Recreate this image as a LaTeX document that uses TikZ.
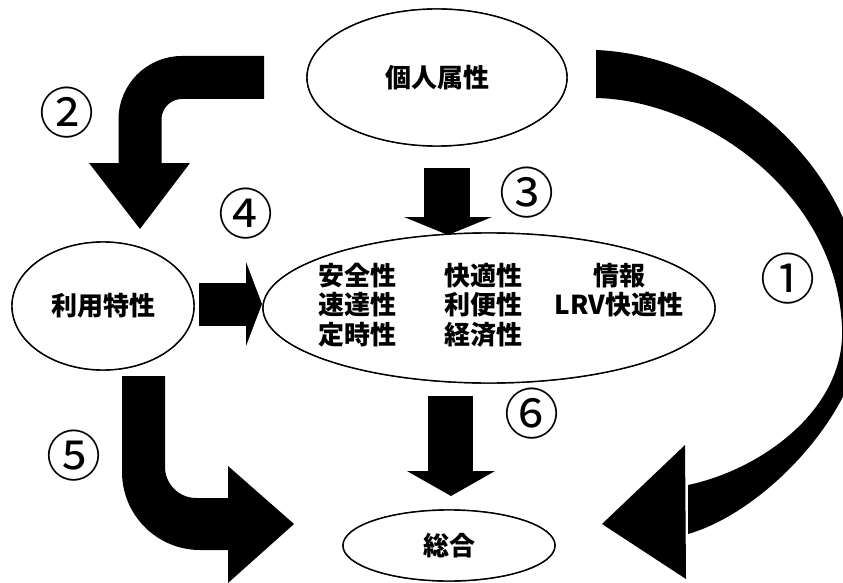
\documentclass[tikz,border=0pt]{standalone}
\usepackage{fontspec}
\setmainfont{Noto Sans CJK JP}
\newfontfamily\jp{Noto Sans CJK JP}
\usetikzlibrary{shapes.geometric}
\tikzset{
  blk/.style={fill=black, draw=none},
  bandline/.style={draw=black, line width=#1, line cap=butt},
  oval/.style={ellipse, draw=black, line width=1.4pt, fill=white, inner sep=0pt},
  lbl/.style={font=\jp\bfseries\fontsize{26}{26}\selectfont, inner sep=0pt},
  num/.style={font=\jp\fontsize{55}{55}\selectfont, inner sep=0pt},
}
\begin{document}
\begin{tikzpicture}[x=1pt,y=-1pt]
\useasboundingbox (0,0) rectangle (843,583);
\fill[white] (0,0) rectangle (843,583);
\clip (0,0) rectangle (843,583);

% nodes
\node[oval, minimum width=260pt, minimum height=137pt] (ko) at (437,77.5) {};
\node[oval, minimum width=182pt, minimum height=128pt] (riyo) at (103,306) {};
\node[oval, minimum width=452pt, minimum height=150pt] (mid) at (489,308) {};
\node[oval, minimum width=212pt, minimum height=71pt] (sogo) at (449,545.5) {};

% arrow 1 (curved band from ko to sogo)
\fill[blk] (596,50) .. controls (720,55) and (860,160) .. (866,315)
  .. controls (864,410) and (765,512) .. (688,534)
  -- (688,485) .. controls (760,470) and (846,410) .. (842,327)
  .. controls (836,190) and (700,100) .. (596,98) -- cycle;
\fill[blk] (685,445) -- (602,524) -- (686,579) -- cycle;

% arrow 2
\coordinate (a2s) at (264,77.5);
\coordinate (a2e) at (140,165);
\draw[bandline=43pt, rounded corners=42pt] (a2s) -- (140,77.5) -- (a2e);
\fill[blk] (89,163) -- (190,163) -- (140,229) -- cycle;

% arrow 3
\fill[blk] (424,168) rectangle (470,218);
\fill[blk] (404,217) -- (492,217) -- (448,235) -- cycle;

% arrow 4
\fill[blk] (199,283) rectangle (247,326);
\fill[blk] (246,262) -- (262,304) -- (246,346) -- cycle;

% arrow 5
\fill[blk] (122,376) -- (122,472) .. controls (122,515) and (157,550) .. (200,550)
  -- (229,550) -- (229,498) -- (196,498) .. controls (179,498) and (165,484) .. (165,467)
  -- (165,376) -- cycle;
\fill[blk] (228,466) -- (294,524) -- (228,583) -- cycle;

% arrow 6
\fill[blk] (428,396) rectangle (473,472);
\fill[blk] (407,471) -- (495,471) -- (451,496) -- cycle;

% redraw ellipses on top
\node[oval, minimum width=260pt, minimum height=137pt] (ko2) at (ko) {};
\node[oval, minimum width=182pt, minimum height=128pt] (riyo2) at (riyo) {};
\node[oval, minimum width=452pt, minimum height=150pt] (mid2) at (mid) {};
\node[oval, minimum width=212pt, minimum height=71pt] (sogo2) at (sogo) {};

% labels
\node[lbl] (tko) at (ko) {個人属性};
\node[lbl] (triyo) at (riyo) {利用特性};
\node[lbl] (tsogo) at (sogo) {総合};
\node[lbl] (m11) at (357,276) {安全性};
\node[lbl] (m21) at (357,305) {速達性};
\node[lbl] (m31) at (357,335) {定時性};
\node[lbl] (m12) at (483,276) {快適性};
\node[lbl] (m22) at (483,305) {利便性};
\node[lbl] (m32) at (483,335) {経済性};
\node[lbl] (m13) at (619,276) {情報};
\node[lbl] (m23) at (619,305) {LRV快適性};

% numbers
\node[num] (n1) at (788,279) {①};
\node[num] (n2) at (67,113) {②};
\node[num] (n3) at (527,193) {③};
\node[num] (n4) at (246,214) {④};
\node[num] (n5) at (74,456) {⑤};
\node[num] (n6) at (532,414) {⑥};
\end{tikzpicture}
\end{document}
